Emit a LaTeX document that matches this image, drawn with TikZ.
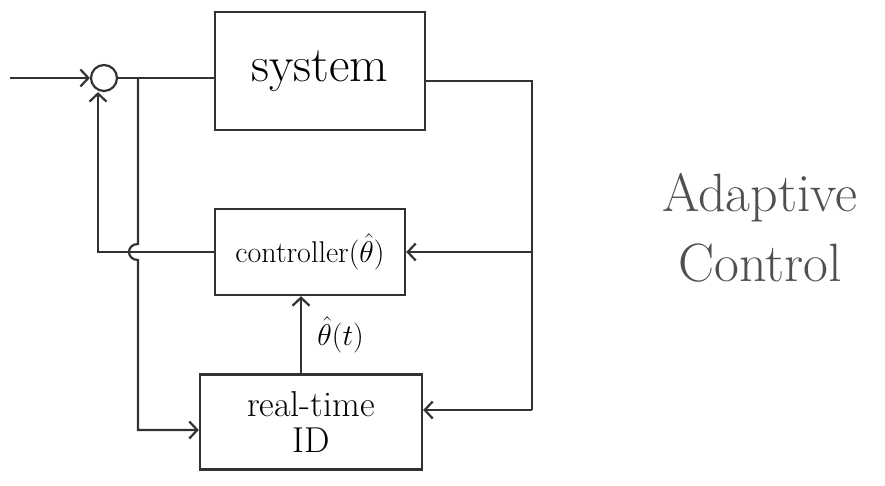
\documentclass[tikz,border=0pt]{standalone}
\usepackage{fix-cm}
\usepackage{fontspec}
\usepackage{tikz}
\usetikzlibrary{arrows.meta,positioning}
\definecolor{pen}{RGB}{50,50,50}
\definecolor{penlight}{RGB}{80,80,80}

\tikzset{
  blk/.style={draw=pen, line width=2.4pt, inner sep=0pt},
  wire/.style={draw=pen, line width=2.2pt},
  arr/.style={wire, -{Straight Barb[length=8pt,width=17pt,line width=2.2pt]}},
}

\begin{document}
\begin{tikzpicture}[x=1pt, y=-1pt]
  \useasboundingbox (0,0) rectangle (885,486);

  % Blocks
  \node[blk, minimum width=210pt, minimum height=118pt, font=\fontsize{50}{54}\selectfont] (sys) at (320,71)
    {system};
  \node[blk, minimum width=190pt, minimum height=86pt, font=\fontsize{30}{34}\selectfont] (ctrl) at (310,252)
    {controller$(\hat\theta)$};
  \node[blk, minimum width=222pt, minimum height=95pt, align=center, font=\fontsize{36}{36}\selectfont] (id) at (311,422)
    {real-time\\ ID};
  \node[draw=pen, line width=2.2pt, circle, minimum size=26pt, inner sep=0pt] (sum) at (104,78) {};

  % Points on the wires
  \coordinate (in) at (10,78);
  \coordinate (br1) at (138,78);
  \coordinate (h1) at (138,244);
  \coordinate (h2) at (138,260);
  \coordinate (c1) at (138,430);
  \coordinate (out) at (532,81);
  \coordinate (c2) at (532,410);

  % Wires
  \draw[arr] (in) -- (sum.west);
  \draw[wire] (sum.east) -- (sum.east -| sys.west);
  \draw[wire] ([yshift=-10pt]sys.east) -- (out) -- (c2);
  \draw[arr] (c2) -- ([yshift=12pt]id.east);
  \draw[arr] (out |- ctrl.east) -- (ctrl.east);
  \draw[arr] (ctrl.west) -| ([xshift=-6pt]sum.south);
  \draw[arr] (br1) -- (h1) .. controls (126,244) and (126,260) .. (h2) -- (c1)
    -- ([yshift=-8pt]id.west);
  \draw[arr] ([xshift=-10pt]id.north) -- ([xshift=-10pt]id.north |- ctrl.south)
    node[pos=0.5, right=12pt, font=\fontsize{30}{34}\selectfont] (est) {$\hat\theta(t)$};

  % Title
  \node[align=center, text=penlight, font=\fontsize{54}{70}\selectfont] (title) at (760,228)
    {Adaptive\\ Control};
\end{tikzpicture}
\end{document}
